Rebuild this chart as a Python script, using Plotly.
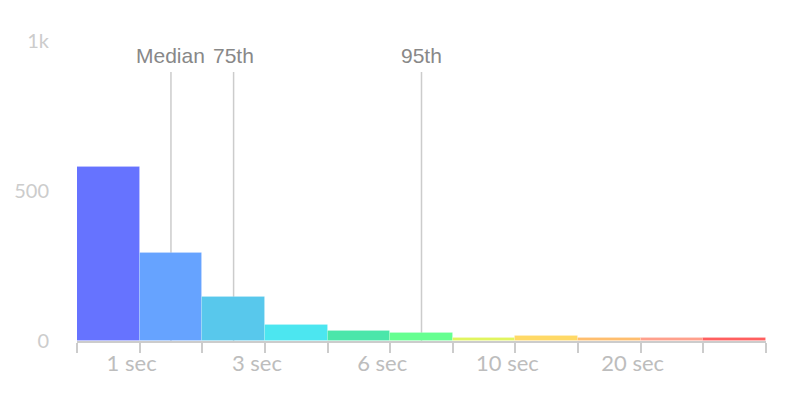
import plotly.graph_objects as go

# histogram buckets (index of bucket on x axis) and counts
bucket_idx = [0.5, 1.5, 2.5, 3.5, 4.5, 5.5, 6.5, 7.5, 8.5, 9.5, 10.5]
counts = [581, 292, 148, 54, 33, 27, 11, 16, 11, 11, 10]
bar_colors = ["#6673FF", "#66A3FF", "#58C8EC", "#4CE6F0", "#4BE6AA", "#66FF91",
              "#E1F55F", "#FFD966", "#FFBE6E", "#FFA08C", "#FF5F5F"]

# bucket edges and their labels
edge_vals = list(range(12))
edge_text = ["", "1 sec", "", "3 sec", "", "6 sec", "", "10 sec", "", "20 sec", "", ""]

# percentile markers
pct_names = ["Median", "75th", "95th"]
pct_pos = [1.5, 2.5, 5.5]
pct_top = 897

fig = go.Figure()

for name, pos in zip(pct_names, pct_pos):
    fig.add_shape(type="line", x0=pos, x1=pos, y0=0, y1=pct_top, layer="below",
                  line=dict(color="#cccccc", width=1.5))
    fig.add_annotation(x=pos, y=pct_top, text=name, showarrow=False, yanchor="bottom",
                       yshift=3, font=dict(family="Liberation Sans, Arial", size=21, color="#888888"))

fig.add_trace(go.Bar(
    x=bucket_idx, y=counts, width=1,
    marker=dict(color=bar_colors, line=dict(color="rgba(255,255,255,0.15)", width=1)),
    hoverinfo="y",
))

# page body has an 8px margin, so the plot box is shifted back by that
fig.update_layout(
    width=800, height=400,
    margin=dict(l=69, r=42, t=33, b=67),
    plot_bgcolor="white", paper_bgcolor="white",
    showlegend=False, bargap=0,
    font=dict(family="Lato", size=19, color="#c0c0c0"),
)
fig.update_xaxes(
    range=[0, 11], tickvals=edge_vals, ticktext=edge_text,
    showgrid=False, zeroline=False, automargin=False,
    showline=True, linecolor="#cccccc", linewidth=2,
    ticks="outside", ticklen=10, tickwidth=1.5, tickcolor="#cccccc",
    ticklabelshift=-8, ticklabelstandoff=-8,
    tickfont=dict(family="Lato", size=22, color="#bdbdbd"),
)
fig.update_yaxes(
    range=[0, 1000], tickvals=[0, 500, 1000], ticktext=["0", "500", "1k"],
    showgrid=False, zeroline=False, showline=False, automargin=False,
    ticklabelstandoff=27,
    tickfont=dict(family="Lato", size=20, color="#cccccc"),
)

fig.write_html("out.html")
